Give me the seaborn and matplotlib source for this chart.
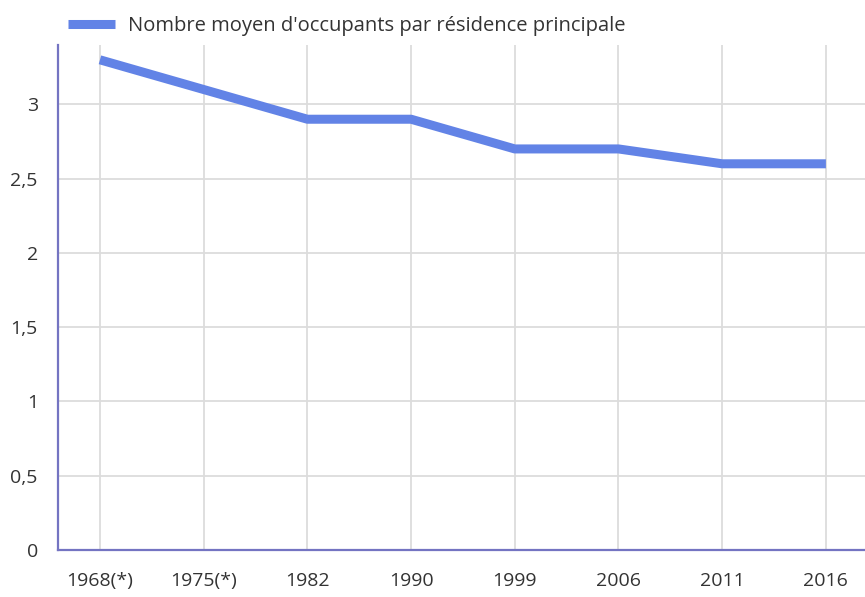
import seaborn as sns
import matplotlib.pyplot as plt
import pandas as pd

annees = ["1968(*)", "1975(*)", "1982", "1990", "1999", "2006", "2011", "2016"]
occupants = [3.3, 3.1, 2.9, 2.9, 2.7, 2.7, 2.6, 2.6]
yticks = [0, 0.5, 1, 1.5, 2, 2.5, 3]
ytick_labels = ["0", "0,5", "1", "1,5", "2", "2,5", "3"]
serie = "Nombre moyen d'occupants par résidence principale"

df = pd.DataFrame({"annee": annees, "valeur": occupants})

sns.set_style("white")
plt.rcParams['font.family'] = ['Open Sans', 'DejaVu Sans']

fig = plt.figure(figsize=(8.65, 5.97), dpi=100)
ax = fig.add_axes([0.067, 0.0787, 0.933, 0.846])

sns.lineplot(data=df, x="annee", y="valeur", sort=False, ax=ax,
             color="#6283e6", linewidth=6.5, label=serie,
             solid_capstyle="butt", solid_joinstyle="round")

ax.set_xlim(-0.405, 7.377)
ax.set_ylim(0, 3.4)
ax.set_yticks(yticks)
ax.set_yticklabels(ytick_labels)
ax.set_xlabel("")
ax.set_ylabel("")

ax.grid(True, color="#dcdcdc", linewidth=1.3)
ax.set_axisbelow(True)
ax.tick_params(axis="both", length=7.5, width=1.2, color="#dcdcdc",
               labelsize=14, labelcolor="#333333", pad=7)
ax.tick_params(axis="x", pad=8.5)

for s in ["top", "right"]:
    ax.spines[s].set_visible(False)
for s in ["left", "bottom"]:
    ax.spines[s].set_color("#7474c2")
    ax.spines[s].set_linewidth(1.6)

ax.legend(loc="center left", bbox_to_anchor=(0.0786, 0.957), bbox_transform=fig.transFigure,
          frameon=False, fontsize=14.5, handlelength=2.35, handletextpad=0.65,
          borderaxespad=0, borderpad=0, labelcolor="#333333")

fig.savefig("out.png", dpi=100)
